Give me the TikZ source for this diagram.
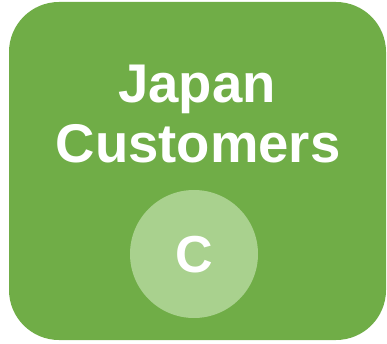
\documentclass[tikz,border=0pt]{standalone}
\usepackage{fontspec}
\setmainfont{Liberation Sans}
\definecolor{boxgreen}{HTML}{70AD47}
\definecolor{circgreen}{HTML}{A9D18E}
\begin{document}
\begin{tikzpicture}[x=1pt,y=-1pt,
  lbl/.style={text=white,font=\fontsize{54.5}{60}\selectfont\bfseries,inner sep=0pt,anchor=base}]
\useasboundingbox (0,0) rectangle (387,344);
\fill[boxgreen,rounded corners=50pt] (9,2) rectangle (386,340);
\node[circle,fill=circgreen,minimum size=128pt,inner sep=0pt] (c) at (194,254) {};
\node[lbl] (l1) at (197,103) {Japan};
\node[lbl] (l2) at (198,163) {Customers};
\node[lbl,font=\fontsize{52}{60}\selectfont\bfseries] (cl) at (194,272) {C};
\end{tikzpicture}
\end{document}
